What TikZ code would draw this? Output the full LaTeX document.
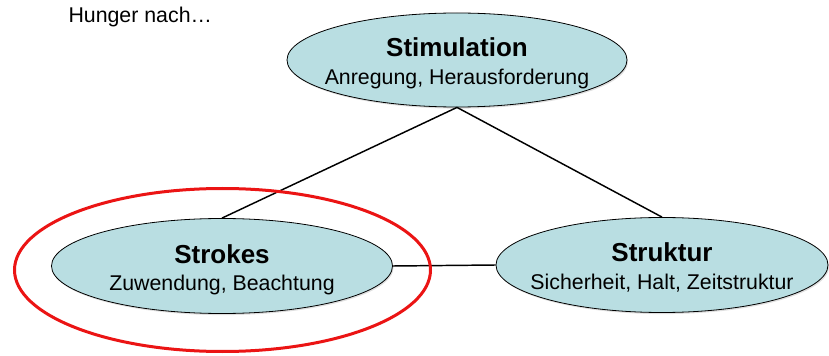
\documentclass[tikz,border=0pt]{standalone}
\usepackage{fontspec}
\setmainfont{Liberation Sans}
\usetikzlibrary{shapes.geometric,shadows}

\definecolor{needfill}{RGB}{185,222,226}
\definecolor{ringred}{RGB}{235,20,20}

\tikzset{every picture/.style={line width=0.75pt}}
\tikzset{
  need/.style={ellipse, draw=black, line width=0.6pt, fill=needfill, inner sep=0pt,
    drop shadow={opacity=0.25, shadow xshift=0.8pt, shadow yshift=-1.2pt}},
  needtitle/.style={anchor=base, inner sep=0.75pt, font=\fontsize{19.5}{22}\selectfont\bfseries},
  needsub/.style={anchor=base, inner sep=0.75pt, font=\fontsize{16}{19}\selectfont},
  link/.style={draw=black, line width=1.1pt}
}

\begin{document}
\begin{tikzpicture}[x=0.75pt,y=0.75pt,yscale=-1]
\useasboundingbox (0,0) rectangle (829,356);

% Text Node
\node [anchor=base west, inner sep=0pt, font=\fontsize{16}{19}\selectfont] (hunger) at (68,22.5) {Hunger nach…};

% Ellipse Nodes
\node [need, minimum width=255pt, minimum height=70.5pt] (stim) at (457,60) {};
\node [need, minimum width=255.75pt, minimum height=71.25pt] (strokes) at (222,266) {};
\node [need, minimum width=249pt, minimum height=71.25pt] (struktur) at (662,265) {};

% Straight Lines
\draw [link] (stim.south) -- (strokes.north);
\draw [link] (stim.south) -- (struktur.north);
\draw [link] (strokes.east) -- (struktur.west);

% Text Nodes
\node [needtitle] (stim-t) at ([yshift=-2.25pt]stim.center) {Stimulation};
\node [needsub] (stim-s) at ([yshift=18.75pt]stim.center) {Anregung, Herausforderung};
\node [needtitle] (strokes-t) at ([yshift=-2.25pt]strokes.center) {Strokes};
\node [needsub] (strokes-s) at ([yshift=18.75pt]strokes.center) {Zuwendung, Beachtung};
\node [needtitle] (struktur-t) at ([yshift=-2.25pt]struktur.center) {Struktur};
\node [needsub] (struktur-s) at ([yshift=18.75pt]struktur.center) {Sicherheit, Halt, Zeitstruktur};

% Red Ring
\node [ellipse, draw=ringred, line width=2.25pt, inner sep=0pt, minimum width=312pt, minimum height=122.25pt] (ring) at (222.5,270) {};

\end{tikzpicture}
\end{document}
